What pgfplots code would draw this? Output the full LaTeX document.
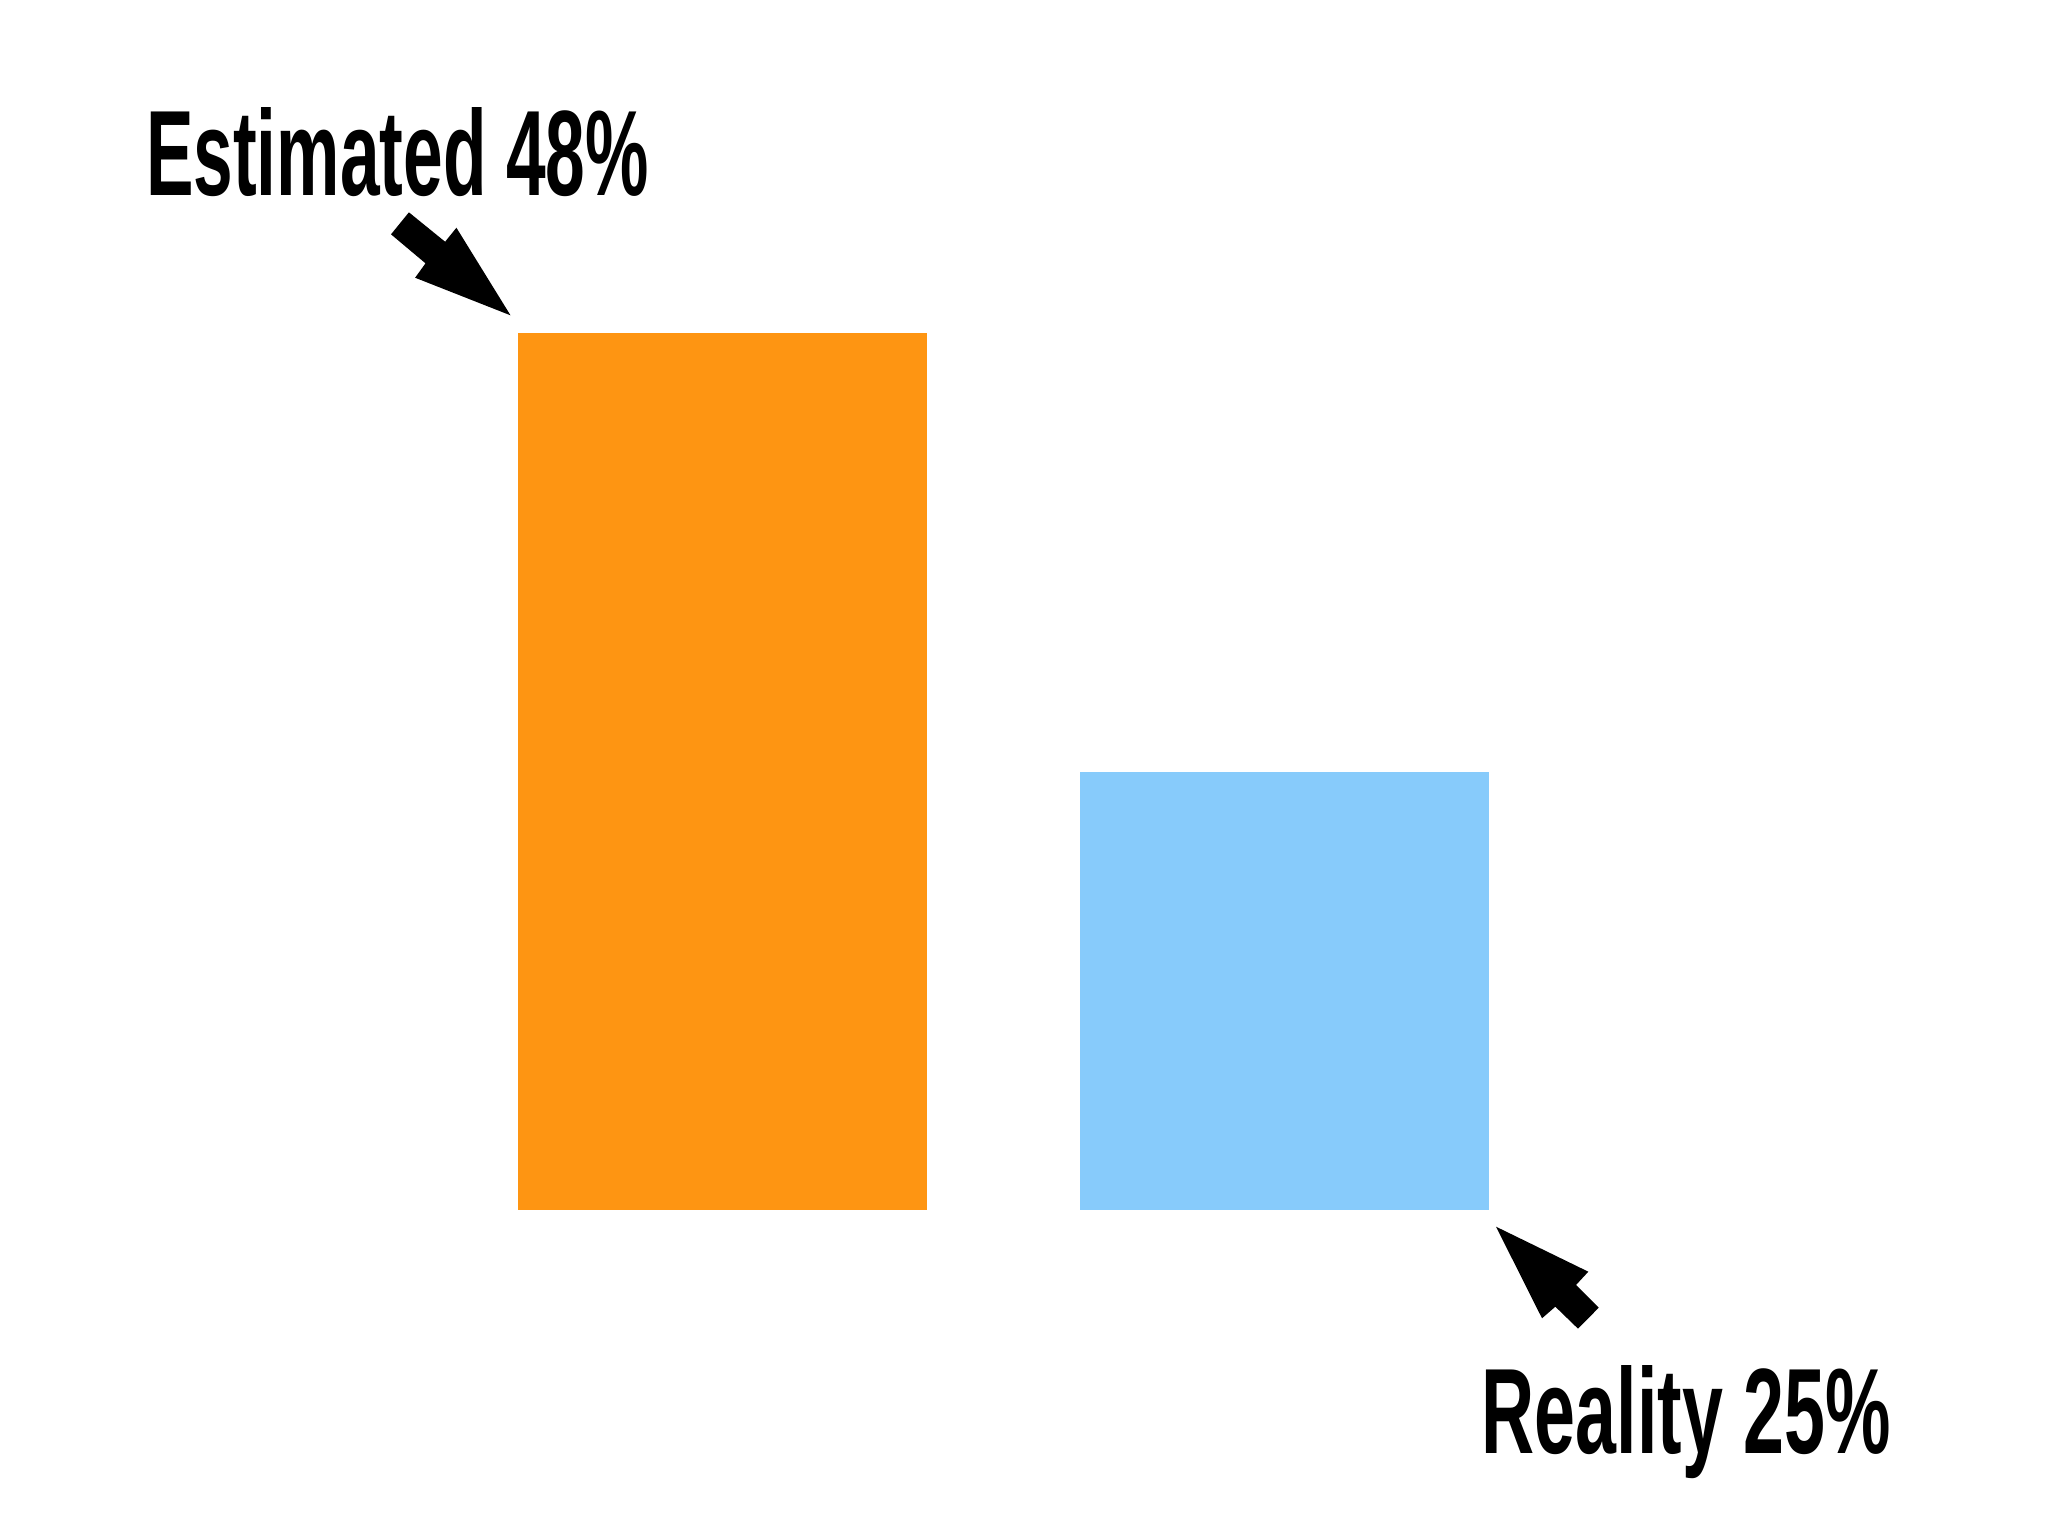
\documentclass[border=0pt]{standalone}
\usepackage{pgfplots}
\pgfplotsset{compat=1.18}
\usepackage{graphicx}
\usepackage{fontspec}
\setmainfont{Liberation Sans}
\definecolor{barorange}{HTML}{FE9512}
\definecolor{barblue}{HTML}{87CBFB}
\newcommand\PP[2]{(axis cs:{(#1-722.5)/562},{(1210-#2)/18.265})}
\begin{document}
\begin{tikzpicture}
\begin{axis}[
  scale only axis, width=20.48cm, height=15.35cm,
  xmin=-1.2856, xmax=2.3585, ymin=-17.794, ymax=66.251,
  hide axis, clip=false,
]
\addplot[ybar, bar width=0.7272, bar shift=0, fill=barorange, draw=none] coordinates {(0,48)};
\addplot[ybar, bar width=0.7272, bar shift=0, fill=barblue, draw=none] coordinates {(1,24)};
\path (rel axis cs:0,0) rectangle (rel axis cs:1,1);
% upper arrow
\fill[black] \PP{408.9}{212.3} -- \PP{445.1}{241.7} -- \PP{456.4}{227.7} -- \PP{510.5}{315.3}
  -- \PP{415.1}{277.7} -- \PP{425.5}{263.3} -- \PP{391}{234.3} -- cycle;
% lower arrow
\fill[black] \PP{1496}{1226.7} -- \PP{1588.3}{1271.7} -- \PP{1576}{1285} -- \PP{1598.7}{1307.7}
  -- \PP{1578}{1328.7} -- \PP{1555.3}{1306.7} -- \PP{1542}{1318.3} -- cycle;
\node[anchor=base west, inner sep=0, outer sep=0] at \PP{146}{195}
  {\resizebox{5.03cm}{0.88cm}{\bfseries Estimated 48\%}};
\node[anchor=base west, inner sep=0, outer sep=0] at \PP{1481.7}{1454}
  {\resizebox{4.09cm}{0.88cm}{\bfseries Reality 25\%}};
\end{axis}
\end{tikzpicture}
\end{document}
